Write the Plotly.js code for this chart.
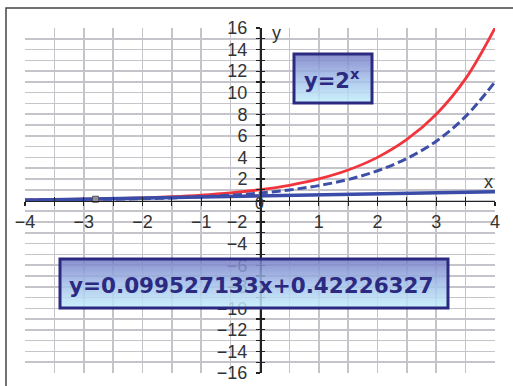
<!DOCTYPE html>
<html>
<head>
<meta charset="utf-8">
<script src="https://cdn.plot.ly/plotly-3.0.1.min.js"></script>
<style>
  html, body { margin: 0; padding: 0; background: #fff; }
  #chart { width: 513px; height: 386px; }
</style>
</head>
<body>
<div id="chart"></div>
<script>
// Sample abscissae for the curves
const xVals = [-4, -3.5, -3, -2.5, -2, -1.5, -1, -0.5, 0, 0.5, 1, 1.5, 2, 2.5, 3, 3.5, 4];
// y = 2^x
const expY = [0.0625, 0.088, 0.125, 0.177, 0.25, 0.354, 0.5, 0.707, 1, 1.41, 2, 2.83, 4, 5.66, 8, 11.3, 16];
// dashed exponential curve
const dashY = [0.043, 0.061, 0.086, 0.122, 0.17, 0.24, 0.35, 0.49, 0.69, 0.98, 1.38, 1.95, 2.76, 3.9, 5.5, 7.8, 11.0];
// linear trend coefficients (as printed in the label)
const slope = 0.099527133;
const intercept = 0.42226327;
const trendX = [-4, 4];
// single highlighted point
const pointX = [-2.8];
const pointY = [0.12];
// tick labels
const xTicks = [-4, -3, -2, -1, 1, 2, 3, 4];
const yTicks = [-16, -14, -12, -10, -8, -6, -4, -2, 2, 4, 6, 8, 10, 12, 14, 16];

const trendY = trendX.map(x => slope * x + intercept);
// typographic minus for negative tick labels
const fmt = v => (v < 0 ? '\u2212' + Math.abs(v) : String(v));

// plot area geometry in pixels
const W = 513, H = 386, L = 25, R = 18, T = 28, B = 13;
const pw = W - L - R, ph = H - T - B;
const px = x => (x - L) / pw;
const py = y => (H - B - y) / ph;

const tickFont = { family: 'Liberation Sans, Arial, sans-serif', size: 18, color: '#333' };
const navy = '#2b2a80';
const gridCol = '#c4c4ca';

const gradSrc = 'data:image/svg+xml;charset=utf-8,' + encodeURIComponent(
  '<svg xmlns="http://www.w3.org/2000/svg" width="10" height="10" viewBox="0 0 10 10" preserveAspectRatio="none">' +
  '<defs><linearGradient id="g" x1="0" y1="0" x2="0" y2="1">' +
  '<stop offset="0" stop-color="#767cc6"/><stop offset="0.5" stop-color="#a2bde9"/>' +
  '<stop offset="1" stop-color="#c4f0fb"/></linearGradient></defs>' +
  '<rect width="10" height="10" fill="url(#g)"/></svg>');

function box(x0, y0, x1, y1) {
  return {
    image: { source: gradSrc, xref: 'paper', yref: 'paper', x: px(x0), y: py(y0),
             sizex: px(x1) - px(x0), sizey: py(y0) - py(y1), xanchor: 'left', yanchor: 'top',
             sizing: 'stretch', layer: 'above', opacity: 0.85 },
    shape: { type: 'rect', xref: 'paper', yref: 'paper', x0: px(x0), x1: px(x1), y0: py(y0), y1: py(y1),
             line: { color: navy, width: 3 }, fillcolor: 'rgba(0,0,0,0)', layer: 'above' }
  };
}
const box1 = box(294, 54, 372, 103);
const box2 = box(60, 259, 448, 308);

function label(x, y, text, font) {
  return { xref: 'paper', yref: 'paper', x: px(x), y: py(y), text: text, showarrow: false,
           xanchor: 'center', yanchor: 'middle', font: font };
}

const traces = [
  { x: xVals, y: expY, mode: 'lines', line: { color: '#f2353d', width: 2.8, shape: 'spline' }, hoverinfo: 'skip' },
  { x: xVals, y: dashY, mode: 'lines', line: { color: '#3d4fa6', width: 3, dash: '9px,4px', shape: 'spline' }, hoverinfo: 'skip' },
  { x: trendX, y: trendY, mode: 'lines', line: { color: '#3a4ca8', width: 3.5 }, hoverinfo: 'skip' },
  { x: pointX, y: pointY, xaxis: 'x2', yaxis: 'y2', mode: 'markers',
    marker: { symbol: 'square', size: 6, color: '#8d8d9c', line: { color: '#55556a', width: 1 } }, hoverinfo: 'skip' }
];

const common = { showgrid: true, gridcolor: gridCol, gridwidth: 1.6, zeroline: false,
  showline: true, linecolor: '#222', linewidth: 1.5, tickcolor: '#222', tickwidth: 1.2, ticklen: 4,
  tickfont: tickFont, anchor: 'free', position: 0.5, fixedrange: true };

const labelFont = { family: 'Liberation Sans, Arial, sans-serif', size: 18, color: '#333' };

const layout = {
  width: W, height: H,
  margin: { l: L, r: R, t: T, b: B, pad: 0 },
  paper_bgcolor: '#fff', plot_bgcolor: '#fff',
  showlegend: false,
  xaxis: Object.assign({}, common, {
    range: [-4, 4], tickmode: 'array', tickvals: xTicks, ticktext: xTicks.map(fmt), ticks: 'outside',
    ticklabelstandoff: 0,
    minor: { dtick: 0.5, tick0: 0, showgrid: true, gridcolor: gridCol, gridwidth: 1.6,
             ticks: 'outside', ticklen: 4, tickcolor: '#222', tickwidth: 1.2 }
  }),
  yaxis: Object.assign({}, common, {
    range: [-16, 16], tickmode: 'array', tickvals: yTicks, ticktext: yTicks.map(fmt), ticks: 'outside',
    ticklabelstandoff: 5,
    minor: { dtick: 1, tick0: 0, showgrid: true, gridcolor: gridCol, gridwidth: 1.6,
             ticks: 'outside', ticklen: 4, tickcolor: '#222', tickwidth: 1.2 }
  }),
  // overlay axes supply the inner half of the crossing tick marks
  xaxis2: { overlaying: 'x', range: [-4, 4], anchor: 'free', position: 0.5, showgrid: false, zeroline: false,
    showline: false, showticklabels: false, tickmode: 'linear', tick0: 0, dtick: 0.5,
    ticks: 'inside', ticklen: 4, tickcolor: '#222', tickwidth: 1.2, fixedrange: true },
  yaxis2: { overlaying: 'y', range: [-16, 16], anchor: 'free', position: 0.5, showgrid: false, zeroline: false,
    showline: false, showticklabels: false, tickmode: 'linear', tick0: 0, dtick: 1, side: 'left',
    ticks: 'inside', ticklen: 4, tickcolor: '#222', tickwidth: 1.2, fixedrange: true },
  images: [box1.image, box2.image],
  shapes: [
    // outer frame
    { type: 'rect', xref: 'paper', yref: 'paper', x0: px(6), x1: px(540), y0: py(8), y1: py(420),
      line: { color: '#444', width: 1.5 }, fillcolor: 'rgba(0,0,0,0)', layer: 'below' },
    box1.shape, box2.shape
  ],
  annotations: [
    label(276, 33, 'y', labelFont),
    label(488, 182, 'x', labelFont),
    label(259, 203, '0', { family: 'Liberation Sans, Arial, sans-serif', size: 16, color: '#333' }),
    label(332, 79, 'y=2<sup style="font-size:70%">x</sup>',
          { family: 'DejaVu Sans, sans-serif', size: 21, color: navy, weight: 'bold' }),
    label(251, 285, 'y=' + slope + 'x+' + intercept,
          { family: 'DejaVu Sans, sans-serif', size: 21.5, color: navy, weight: 'bold' })
  ]
};

Plotly.newPlot('chart', traces, layout, { displayModeBar: false, staticPlot: true });
</script>
</body>
</html>
